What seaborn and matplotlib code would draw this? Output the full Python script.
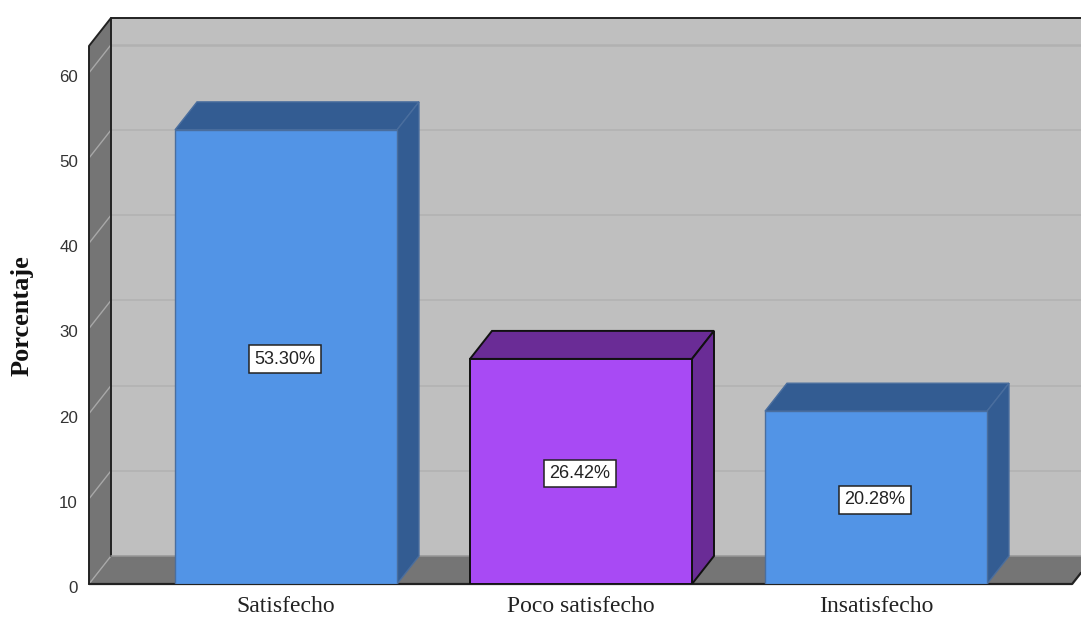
import matplotlib
matplotlib.use("Agg")
import matplotlib.pyplot as plt
import matplotlib.transforms as mtrans
import seaborn as sns
import pandas as pd
from matplotlib.patches import Polygon

categories = ["Satisfecho", "Poco satisfecho", "Insatisfecho"]
percentages = [53.30, 26.42, 20.28]
value_labels = ["53.30%", "26.42%", "20.28%"]
y_ticks = [0, 10, 20, 30, 40, 50, 60]
front_colors = ["#5294E6", "#A84AF4", "#5294E6"]
dark_colors = ["#335C92", "#6A2C96", "#335C92"]
edge_colors = ["#4A6E9E", "#111111", "#4A6E9E"]

W, H = 1081, 619
L, R, T, B = 89, 1081, 18, 584
PX_PER_UNIT = 8.52
PX_PER_CAT = 295.0
X0_PX = 286.0
BAR_W = 222 / PX_PER_CAT
DX = 22 / PX_PER_CAT
DY = 28 / PX_PER_UNIT
TOP = 63.15

sns.set_theme(style="white")
fig = plt.figure(figsize=(W / 100, H / 100), dpi=100, facecolor="white")
ax = fig.add_axes([L / W, 1 - B / H, (R - L) / W, (B - T) / H])

df = pd.DataFrame({"cat": categories, "pct": percentages})
sns.barplot(data=df, x="cat", y="pct", hue="cat", palette=front_colors, legend=False,
            width=BAR_W, ax=ax, saturation=1, zorder=5)
ax.set_xlim((L - X0_PX) / PX_PER_CAT, (R - X0_PX) / PX_PER_CAT)
ax.set_ylim(0, (B - T) / PX_PER_UNIT)
x_left, x_right = ax.get_xlim()

for s in ax.spines.values():
    s.set_visible(False)
ax.set_facecolor("white")

WALL = "#BFBFBF"
SIDE = "#757575"
GRID = "#B1B1B1"
SIDE_GRID = "#A8A8A8"
DARK = "#222222"

# back wall
ax.add_patch(Polygon([(x_left + DX, DY), (x_right, DY), (x_right, TOP + DY), (x_left + DX, TOP + DY)],
                     closed=True, fc=WALL, ec="none", zorder=1))
# floor
ax.add_patch(Polygon([(x_left, 0), (x_left + DX, DY), (x_right, DY), (x_right, DY * 0.4), (x_right - 0.03, 0)],
                     closed=True, fc=SIDE, ec="none", zorder=1.5))
# left wall
ax.add_patch(Polygon([(x_left, 0), (x_left + DX, DY), (x_left + DX, TOP + DY), (x_left, TOP)],
                     closed=True, fc=SIDE, ec="none", zorder=1.6))
# grid
for v in y_ticks:
    if v > 0:
        ax.plot([x_left + DX, x_right], [v + DY, v + DY], color=GRID, lw=1.1, zorder=2)
    ax.plot([x_left, x_left + DX], [v, v + DY], color=SIDE_GRID, lw=1, zorder=2)
ax.plot([x_left + DX, x_right], [TOP, TOP], color=GRID, lw=1.1, zorder=2)
ax.plot([x_left + DX, x_right], [TOP + DY, TOP + DY], color=DARK, lw=1.4, zorder=3, clip_on=False)
# frame edges
ax.plot([x_left, x_left, x_left + DX, x_left + DX], [0, TOP, TOP + DY, DY], color=DARK, lw=1.4, zorder=3, clip_on=False)
ax.plot([x_left, x_right - 0.03, x_right], [0, 0, DY * 0.4], color=DARK, lw=1.6, zorder=3, clip_on=False)
ax.plot([x_left + DX, x_right], [DY, DY], color="#979797", lw=1.1, zorder=3)

# 3D bars and labels
for i, (bar, v) in enumerate(zip(ax.patches, percentages)):
    x0 = bar.get_x()
    x1 = x0 + bar.get_width()
    ec = edge_colors[i]
    bar.set_edgecolor(ec)
    bar.set_linewidth(1.4 if i == 1 else 1.0)
    ax.add_patch(Polygon([(x0, v), (x0 + DX, v + DY), (x1 + DX, v + DY), (x1, v)],
                         closed=True, fc=dark_colors[i], ec=ec, lw=bar.get_linewidth(), zorder=4))
    ax.add_patch(Polygon([(x1, 0), (x1 + DX, DY), (x1 + DX, v + DY), (x1, v)],
                         closed=True, fc=dark_colors[i], ec=ec, lw=bar.get_linewidth(), zorder=4))
    ax.annotate(value_labels[i], xy=((x0 + x1) / 2, v / 2), xytext=(-1, -1.5), textcoords="offset points",
                ha="center", va="center", zorder=7,
                family="Liberation Sans", fontsize=13, color="#222222",
                bbox=dict(boxstyle="square,pad=0.3", fc="white", ec="#222222", lw=1.1))

ax.set_yticks(y_ticks)
ax.set_yticklabels([str(t) for t in y_ticks], family="Liberation Sans", fontsize=12.2, color="#333333")
ax.tick_params(axis="y", length=0, pad=8)
ax.tick_params(axis="x", length=0, pad=9)
for lab in ax.get_yticklabels():
    lab.set_transform(lab.get_transform() + mtrans.ScaledTranslation(0, -3 / 100, fig.dpi_scale_trans))
ax.set_xticks(range(3))
ax.set_xticklabels(categories, family="Liberation Serif", fontsize=17, color="#222222")
ax.set_xlabel("")
ax.set_ylabel("")
fig.text(22 / W, 1 - 316 / H, "Porcentaje", rotation=90, ha="center", va="center",
         family="Liberation Serif", fontweight="bold", fontsize=19, color="#111111")
ax.grid(False)
fig.savefig("out.png", dpi=100, facecolor="white")
